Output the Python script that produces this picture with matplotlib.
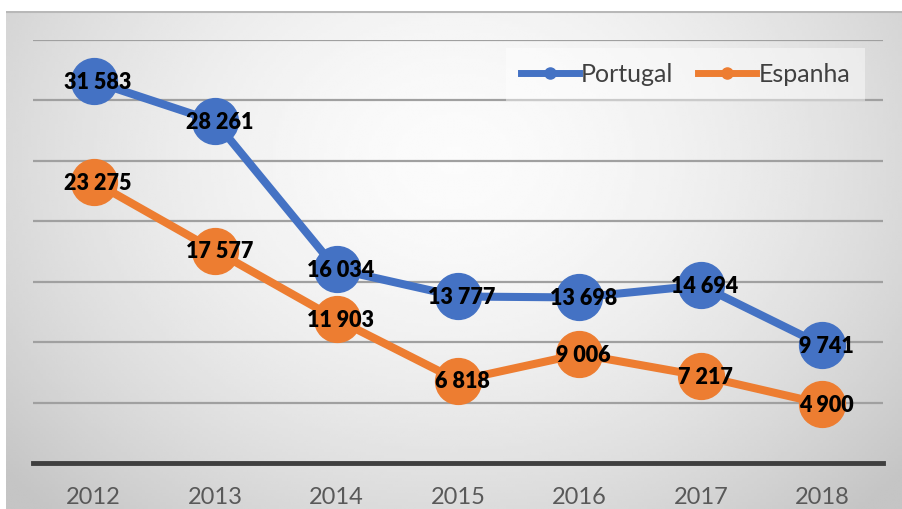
import numpy as np
import matplotlib
matplotlib.use("Agg")
import matplotlib.pyplot as plt
from matplotlib.lines import Line2D

years = ["2012", "2013", "2014", "2015", "2016", "2017", "2018"]
portugal = [31583, 28261, 16034, 13777, 13698, 14694, 9741]
espanha = [23275, 17577, 11903, 6818, 9006, 7217, 4900]
series_names = ["Portugal", "Espanha"]

def fmt(v):
    return f"{v:,}".replace(",", " ")

plt.rcParams['font.family'] = ['Lato', 'DejaVu Sans']

W, H = 902, 509
fig = plt.figure(figsize=(W / 100, H / 100), dpi=100)
fig.patch.set_facecolor("white")

# background radial gradient panel
bg = fig.add_axes([6 / W, 0, 1 - 6 / W, 1 - 11 / H])
bg.set_axis_off()
nx, ny = 300, 170
xx, yy = np.meshgrid(np.linspace(0, 1, nx), np.linspace(0, 1, ny))
cx, cy = 0.5, 0.3
t = np.sqrt(((xx - cx) / 0.62) ** 2 + ((yy - cy) / 0.9) ** 2)
val = np.clip(0.985 - 0.19 * t ** 1.7, 0.77, 1.0)
bg.imshow(val, cmap="gray", vmin=0, vmax=1, aspect="auto", extent=[0, 1, 1, 0],
          interpolation="bilinear")
bg.set_xlim(0, 1)
bg.set_ylim(1, 0)
bg.plot([0, 1], [0.002, 0.002], color="#b8b8b8", lw=1.5)

ax = fig.add_axes([33 / W, 1 - 463 / H, 850 / W, (463 - 40) / H])
ax.set_facecolor("none")
x = np.arange(len(years))

blue = "#4472C4"
orange = "#ED7D31"

ax.set_ylim(0, 35000)
ax.set_xlim(-0.5, len(years) - 0.5)
ax.set_yticks(np.arange(5000, 35001, 5000))
ax.yaxis.grid(True, color="#a0a0a0", lw=1.6)
ax.set_axisbelow(True)
ax.tick_params(axis="y", left=False, labelleft=False)
ax.set_xticks(x)
ax.set_xticklabels(years, fontsize=17, color="#595959")
ax.tick_params(axis="x", length=0, pad=17)
for s in ["top", "right", "left"]:
    ax.spines[s].set_visible(False)
ax.spines["bottom"].set_color("#3f3f3f")
ax.spines["bottom"].set_linewidth(3.5)

for vals, col in [(portugal, blue), (espanha, orange)]:
    ax.plot(x, vals, color=col, lw=5.8, marker="o", markersize=33,
            markerfacecolor=col, markeredgecolor=col, zorder=3)
    for xi, v in zip(x, vals):
        ax.annotate(fmt(v), (xi, v), xytext=(3, -1), textcoords="offset points",
                    ha="center", va="center", fontsize=15.5, fontweight="heavy",
                    color="black", zorder=5)

handles = [Line2D([], [], color=blue, lw=5, marker="o", markersize=8),
           Line2D([], [], color=orange, lw=5, marker="o", markersize=8)]
leg = ax.legend(handles, series_names, loc="upper right", bbox_to_anchor=(0.979, 0.981),
                ncol=2, fontsize=18, frameon=True, fancybox=False, handlelength=2.3,
                handletextpad=0.1, columnspacing=1.0, borderpad=0.6, borderaxespad=0)
leg.get_frame().set_facecolor("white")
leg.get_frame().set_alpha(0.45)
leg.get_frame().set_edgecolor("none")
for txt in leg.get_texts():
    txt.set_color("#404040")

fig.savefig("out.png", dpi=100)
